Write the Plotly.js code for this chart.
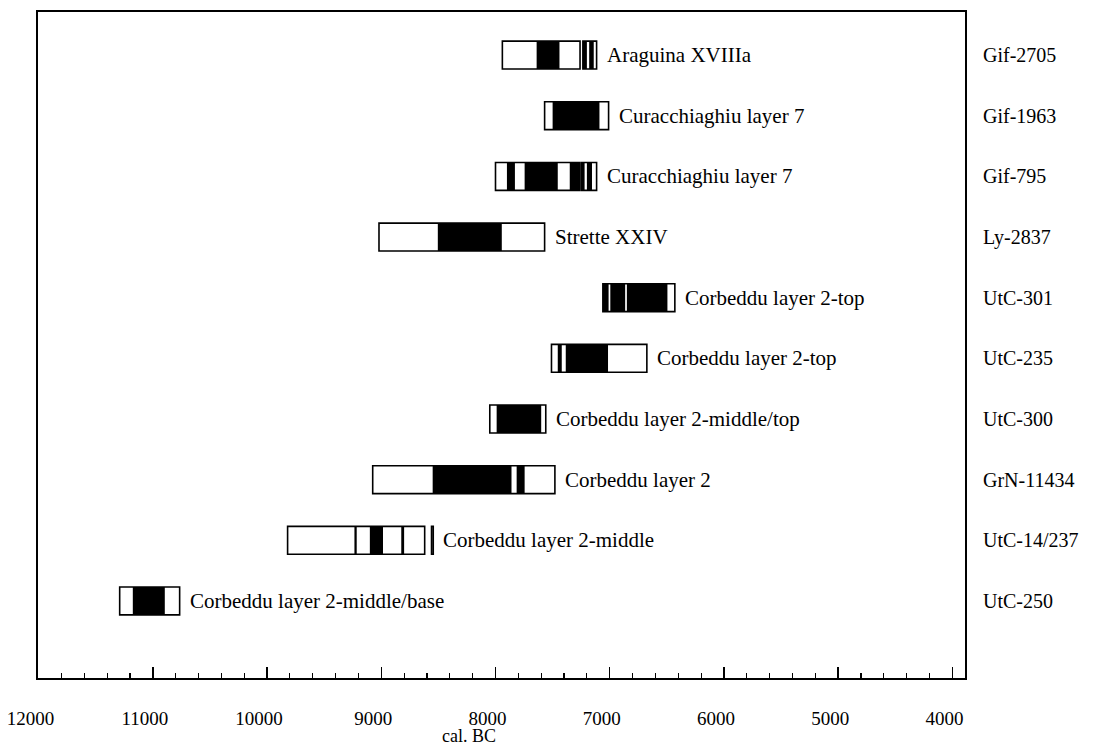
<!DOCTYPE html>
<html>
<head>
<meta charset="utf-8">
<script src="https://cdn.plot.ly/plotly-3.0.1.min.js"></script>
<style>
  html, body { margin: 0; padding: 0; background: #fff; }
  #chart { width: 1095px; height: 750px; }
</style>
</head>
<body>
<div id="chart"></div>
<script>
// Radiocarbon samples, top to bottom
const labCodes = ["Gif-2705", "Gif-1963", "Gif-795", "Ly-2837", "UtC-301",
                  "UtC-235", "UtC-300", "GrN-11434", "UtC-14/237", "UtC-250"];
const siteNames = ["Araguina XVIIIa", "Curacchiaghiu layer 7", "Curacchiaghiu layer 7",
                   "Strette XXIV", "Corbeddu layer 2-top", "Corbeddu layer 2-top",
                   "Corbeddu layer 2-middle/top", "Corbeddu layer 2",
                   "Corbeddu layer 2-middle", "Corbeddu layer 2-middle/base"];

// 2-sigma calibrated ranges, cal. BC [older, younger]
const twoSigma = [
  [[7940, 7260], [7235, 7115]],
  [[7570, 7010]],
  [[8000, 7260], [7245, 7115]],
  [[9020, 7570]],
  [[7060, 6430]],
  [[7510, 6675]],
  [[8050, 7560]],
  [[9075, 7480]],
  [[9820, 8620], [8560, 8545]],
  [[11290, 10765]]
];

// 1-sigma calibrated ranges, cal. BC [older, younger]
const oneSigma = [
  [[7640, 7440], [7235, 7200], [7180, 7140]],
  [[7500, 7090]],
  [[7900, 7830], [7745, 7455], [7350, 7260], [7245, 7220], [7200, 7155]],
  [[8505, 7945]],
  [[7060, 7010], [6995, 6865], [6850, 6495]],
  [[7455, 7420], [7385, 7015]],
  [[7990, 7600]],
  [[8550, 7860], [7815, 7745]],
  [[9235, 9215], [9100, 8985], [8825, 8800]],
  [[11175, 10895]]
];

// Axis ticks
const yearTicks = [12000, 11000, 10000, 9000, 8000, 7000, 6000, 5000, 4000];
const yearTickText = ["12000", "11000", "10000", "9000", "8000", "7000", "6000", "5000", "4000"];
const axisTitle = "cal. BC";

const FONT = "Liberation Serif, Times New Roman, serif";
const BOX_W = 0.46;

function rangeTrace(ranges, fill, lineW) {
  const y = [], base = [], len = [];
  ranges.forEach((rs, i) => rs.forEach(r => {
    y.push(i); base.push(r[0]); len.push(r[1] - r[0]);
  }));
  return {
    type: "bar", orientation: "h", y: y, x: len, base: base,
    width: BOX_W, hoverinfo: "skip", showlegend: false,
    marker: { color: fill, line: { color: "#000", width: lineW } }
  };
}

const traces = [
  rangeTrace(twoSigma, "#fff", 1.6),
  rangeTrace(oneSigma, "#000", 0)
];

// Site name placed just after the youngest 2-sigma bound of each sample
const annotations = siteNames.map((name, i) => ({
  x: Math.min(...twoSigma[i].map(r => r[1])), y: i,
  xref: "x", yref: "y", text: name, showarrow: false,
  xanchor: "left", yanchor: "middle", xshift: 8,
  font: { family: FONT, size: 21, color: "#000" }
}));
annotations.push({
  x: 0.465, y: 0, xref: "paper", yref: "paper", yshift: -58,
  text: axisTitle, showarrow: false, xanchor: "center", yanchor: "middle",
  font: { family: FONT, size: 18, color: "#000" }
});

const layout = {
  width: 1095, height: 750,
  margin: { l: 38, r: 130, t: 12, b: 72 },
  paper_bgcolor: "#fff", plot_bgcolor: "#fff",
  barmode: "overlay",
  font: { family: FONT, size: 19, color: "#000" },
  xaxis: {
    range: [12005, 3890],
    tickmode: "array", tickvals: yearTicks, ticktext: yearTickText,
    ticks: "inside", ticklen: 11, tickwidth: 1.5, tickcolor: "#000",
    ticklabelstandoff: 22, ticklabelshift: 8,
    minor: { tick0: 4000, dtick: 200, ticks: "inside", ticklen: 5, tickwidth: 1.2, tickcolor: "#000", showgrid: false },
    showline: true, linecolor: "#000", linewidth: 2, mirror: true,
    showgrid: false, zeroline: false,
    tickfont: { family: FONT, size: 19, color: "#000" }
  },
  yaxis: {
    range: [10.27, -0.71],
    side: "right",
    tickmode: "array", tickvals: labCodes.map((_, i) => i), ticktext: labCodes,
    ticks: "", ticklabelstandoff: 12,
    showline: true, linecolor: "#000", linewidth: 2, mirror: true,
    showgrid: false, zeroline: false,
    tickfont: { family: FONT, size: 20, color: "#000" }
  },
  annotations: annotations
};

Plotly.newPlot("chart", traces, layout, { staticPlot: true, displayModeBar: false });
</script>
</body>
</html>
